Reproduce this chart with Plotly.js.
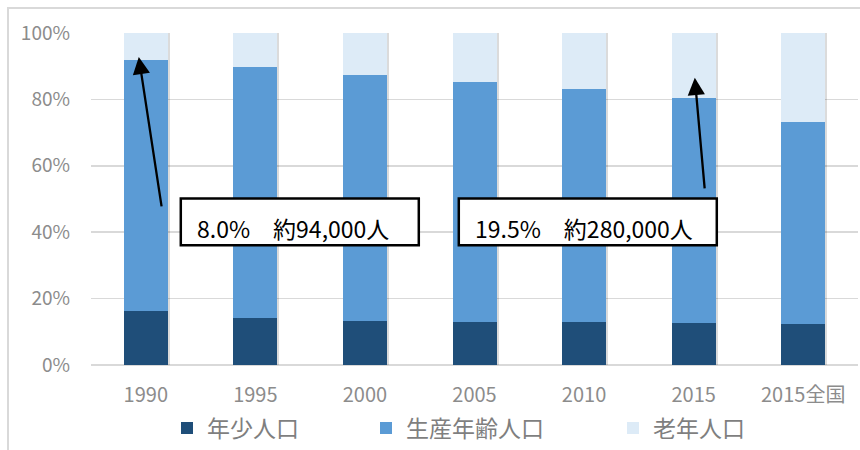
<!DOCTYPE html>
<html>
<head>
<meta charset="utf-8">
<script src="https://cdn.plot.ly/plotly-3.0.1.min.js"></script>
<style>
  html, body { margin: 0; padding: 0; background: #ffffff; }
  #wrap { position: relative; width: 860px; height: 450px; overflow: hidden; }
  #chart { position: absolute; left: 0; top: 0; width: 860px; height: 450px; }
  #frame { position: absolute; left: 7px; top: 7px; width: 900px; height: 500px;
           border-left: 2px solid #d9d9d9; border-top: 2px solid #d9d9d9; pointer-events: none; }
</style>
</head>
<body>
<div id="wrap"><div id="frame"></div><div id="chart"></div></div>
<script>
// ---- data ----
const categories = ['1990', '1995', '2000', '2005', '2010', '2015', '2015全国'];
const youth   = [16.3, 14.2, 13.4, 12.9, 12.9, 12.6, 12.4];   // 年少人口
const working = [75.7, 75.7, 74.1, 72.4, 70.2, 67.9, 60.9];   // 生産年齢人口
const elderly = [8.0, 10.1, 12.5, 14.7, 16.9, 19.5, 26.7];    // 老年人口
const seriesNames = ['年少人口', '生産年齢人口', '老年人口'];
const yTicks = [0, 20, 40, 60, 80, 100];
const noteLeft  = '8.0%　約94,000人';
const noteRight = '19.5%　約280,000人';

// ---- style ----
const FONT = 'Noto Sans CJK JP, Noto Sans, sans-serif';
const colors = ['#1f4e79', '#5b9bd5', '#ddebf7'];
const catPx = 109.57;        // pixels per category
const barW = 44 / catPx;     // bar width in category units
const totals = categories.map((_, i) => youth[i] + working[i] + elderly[i]);

const traces = [];
// soft drop shadows (base subplot, drawn beneath the bars)
[[2, 0.14], [4, 0.10], [6, 0.07], [9, 0.04]].forEach(([d, a]) => {
  traces.push({
    type: 'bar', x: categories, y: totals, xaxis: 'x', yaxis: 'y',
    width: barW, offset: -barW / 2 + d / catPx,
    marker: { color: 'rgba(0,0,0,' + a + ')', line: { width: 0 } },
    showlegend: false, hoverinfo: 'skip'
  });
});
const vals = [youth, working, elderly];
const legends = ['legend', 'legend2', 'legend3'];
vals.forEach((v, k) => {
  traces.push({
    type: 'bar', x: categories, y: v, name: seriesNames[k],
    xaxis: 'x2', yaxis: 'y2', legend: legends[k],
    width: barW,
    marker: { color: colors[k], line: { width: 0 } },
    hoverinfo: 'skip'
  });
});

const px2x = p => (p - 146) / catPx;
const px2y = p => (366 - p) / 3.33;

const legendBase = {
  orientation: 'h', yanchor: 'middle', xanchor: 'left', y: -0.186,
  font: { family: FONT, size: 23, color: '#7f7f7f' },
  bgcolor: 'rgba(0,0,0,0)', borderwidth: 0
};

const layout = {
  width: 860, height: 450,
  margin: { l: 91, r: 2, t: 33, b: 84 },
  paper_bgcolor: 'rgba(0,0,0,0)', plot_bgcolor: 'rgba(0,0,0,0)',
  barmode: 'stack',
  showlegend: true,
  font: { family: FONT },
  xaxis: {
    type: 'category', categoryorder: 'array', categoryarray: categories,
    range: [-0.5, 6.5], showgrid: false, zeroline: false, showline: false, ticks: '',
    ticklabelstandoff: 16,
    tickfont: { family: FONT, size: 20, color: '#8c8c8c' }, fixedrange: true
  },
  yaxis: {
    range: [0, 100], tickvals: yTicks, ticktext: yTicks.map(t => t + '%'),
    showgrid: true, gridcolor: '#d9d9d9', gridwidth: 1.5,
    zeroline: true, zerolinecolor: '#d9d9d9', zerolinewidth: 2,
    showline: false, ticks: '', ticklabelstandoff: 20,
    tickfont: { family: FONT, size: 19, color: '#8c8c8c' }, fixedrange: true
  },
  xaxis2: {
    type: 'category', categoryorder: 'array', categoryarray: categories,
    range: [-0.5, 6.5], overlaying: 'x', visible: false, fixedrange: true
  },
  yaxis2: { range: [0, 100], overlaying: 'y', visible: false, fixedrange: true },
  legend:  Object.assign({}, legendBase, { x: (167 - 91) / 767 }),
  legend2: Object.assign({}, legendBase, { x: (366 - 91) / 767 }),
  legend3: Object.assign({}, legendBase, { x: (613 - 91) / 767 }),
  shapes: [
    { type: 'rect', xref: 'x', yref: 'y', x0: px2x(181), x1: px2x(419), y0: px2y(246), y1: px2y(199),
      line: { color: '#000000', width: 2.5 }, fillcolor: '#ffffff', layer: 'above' },
    { type: 'rect', xref: 'x', yref: 'y', x0: px2x(459), x1: px2x(717), y0: px2y(246), y1: px2y(199),
      line: { color: '#000000', width: 2.5 }, fillcolor: '#ffffff', layer: 'above' }
  ],
  annotations: [
    { xref: 'x', yref: 'y', x: px2x(139), y: px2y(57), ax: 23, ay: 151, text: '',
      showarrow: true, arrowhead: 2, arrowsize: 1.5, arrowwidth: 2.3, arrowcolor: '#000000', standoff: 0 },
    { xref: 'x', yref: 'y', x: px2x(695), y: px2y(78), ax: 10, ay: 112, text: '',
      showarrow: true, arrowhead: 2, arrowsize: 1.5, arrowwidth: 2.3, arrowcolor: '#000000', standoff: 0 },
    { xref: 'x', yref: 'y', x: px2x(195), y: px2y(229), xanchor: 'left', yanchor: 'middle',
      text: noteLeft, showarrow: false, font: { family: FONT, size: 23, color: '#000000' } },
    { xref: 'x', yref: 'y', x: px2x(473), y: px2y(229), xanchor: 'left', yanchor: 'middle',
      text: noteRight, showarrow: false, font: { family: FONT, size: 23, color: '#000000' } }
  ]
};

Plotly.newPlot('chart', traces, layout, { staticPlot: true, displayModeBar: false });
</script>
</body>
</html>
